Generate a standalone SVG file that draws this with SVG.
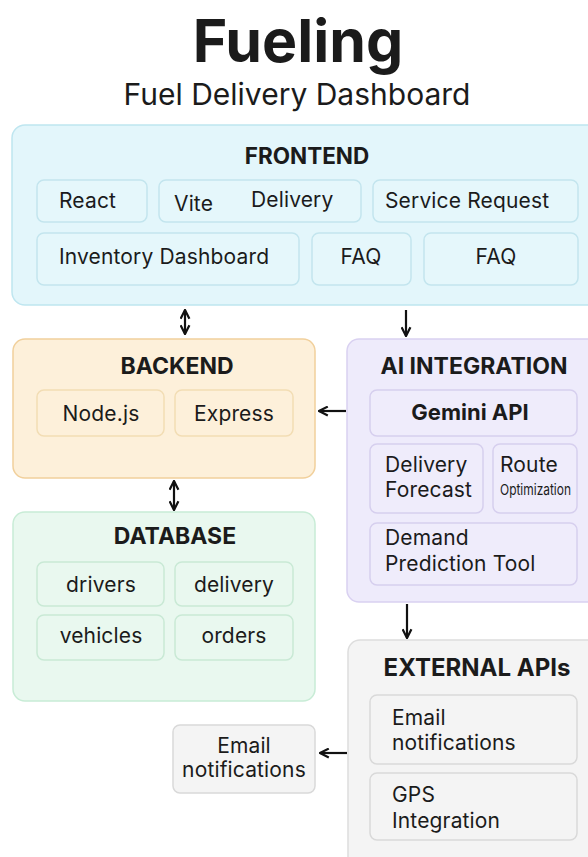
<svg xmlns="http://www.w3.org/2000/svg" width="588" height="857" viewBox="0 0 588 857">
  <style>
    text { font-family: Inter, "Noto Sans", "Liberation Sans", sans-serif; fill: #1b1b1b; }
    .h { font-size: 23px; font-weight: 700; text-anchor: middle; }
    .t { font-size: 21px; letter-spacing: 0.15px; }
    .c { text-anchor: middle; }
    .fe { fill: #e3f6fb; stroke: #bfe6f0; stroke-width: 1.5; }
    .fe-i { fill: #e5f7fb; stroke: #c3e5ee; stroke-width: 1.5; }
    .be { fill: #fdf0da; stroke: #f1d09c; stroke-width: 1.5; }
    .be-i { fill: #fdf0da; stroke: #f2ddb4; stroke-width: 1.5; }
    .db { fill: #e9f8ef; stroke: #c8ecd6; stroke-width: 1.5; }
    .db-i { fill: #e9f8ef; stroke: #c9e9d5; stroke-width: 1.5; }
    .ai { fill: #eeebfb; stroke: #d9d1f1; stroke-width: 1.5; }
    .ai-i { fill: #efecfb; stroke: #d6cfee; stroke-width: 1.5; }
    .ex { fill: #f4f4f4; stroke: #dddddd; stroke-width: 1.5; }
    .ex-i { fill: #f4f4f4; stroke: #d9d9d9; stroke-width: 1.5; }
    .arrow { stroke: #111; stroke-width: 2.2; fill: none; }
  </style>
  <defs>
    <marker id="ah" viewBox="0 0 10 10" refX="9" refY="5" markerWidth="5" markerHeight="5" orient="auto-start-reverse">
      <path d="M1,1 L9,5 L1,9" fill="none" stroke="#111" stroke-width="2" stroke-linejoin="miter"/>
    </marker>
  </defs>

  <rect width="588" height="857" fill="#ffffff"/>

  <!-- Title -->
  <g id="title">
    <text x="298" y="62" class="c" style="font-size:59px;font-weight:700">Fueling</text>
    <text x="297" y="105" class="c" style="font-size:30px">Fuel Delivery Dashboard</text>
  </g>

  <!-- Frontend -->
  <g id="frontend">
    <rect class="fe" x="12" y="125" width="600" height="180" rx="13"/>
    <text class="h" x="307" y="164" style="font-size:22.5px">FRONTEND</text>
    <rect class="fe-i" x="37" y="180" width="110" height="42" rx="7"/>
    <text class="t" x="59" y="208">React</text>
    <rect class="fe-i" x="159" y="180" width="202" height="42" rx="7"/>
    <text class="t" x="174" y="211">Vite</text>
    <text class="t" x="251" y="207">Delivery</text>
    <rect class="fe-i" x="373" y="180" width="205" height="42" rx="7"/>
    <text class="t" x="385" y="208">Service Request</text>
    <rect class="fe-i" x="37" y="233" width="262" height="52" rx="7"/>
    <text class="t" x="59" y="264">Inventory Dashboard</text>
    <rect class="fe-i" x="312" y="233" width="99" height="52" rx="7"/>
    <text class="t c" x="361" y="264">FAQ</text>
    <rect class="fe-i" x="424" y="233" width="154" height="52" rx="7"/>
    <text class="t c" x="496" y="264">FAQ</text>
  </g>

  <!-- Backend -->
  <g id="backend">
    <rect class="be" x="13" y="339" width="302" height="139" rx="12"/>
    <text class="h" x="177" y="374">BACKEND</text>
    <rect class="be-i" x="37" y="390" width="127" height="46" rx="7"/>
    <text class="t c" x="101" y="421">Node.js</text>
    <rect class="be-i" x="175" y="390" width="118" height="46" rx="7"/>
    <text class="t c" x="234" y="421">Express</text>
  </g>

  <!-- Database -->
  <g id="database">
    <rect class="db" x="13" y="512" width="302" height="189" rx="12"/>
    <text class="h" x="175" y="544">DATABASE</text>
    <rect class="db-i" x="37" y="562" width="127" height="44" rx="7"/>
    <text class="t c" x="101" y="592">drivers</text>
    <rect class="db-i" x="175" y="562" width="118" height="44" rx="7"/>
    <text class="t c" x="234" y="592">delivery</text>
    <rect class="db-i" x="37" y="615" width="127" height="45" rx="7"/>
    <text class="t c" x="101" y="643">vehicles</text>
    <rect class="db-i" x="175" y="615" width="118" height="45" rx="7"/>
    <text class="t c" x="234" y="643">orders</text>
  </g>

  <!-- AI integration -->
  <g id="ai-integration">
    <rect class="ai" x="347" y="339" width="260" height="263" rx="12"/>
    <text class="h" x="474" y="374">AI INTEGRATION</text>
    <rect class="ai-i" x="370" y="390" width="207" height="46" rx="7"/>
    <text class="c" x="470" y="420" style="font-size:22px;font-weight:700">Gemini API</text>
    <rect class="ai-i" x="370" y="444" width="113" height="69" rx="7"/>
    <text class="t" x="385" y="472">Delivery</text>
    <text class="t" x="385" y="497">Forecast</text>
    <rect class="ai-i" x="493" y="444" width="84" height="69" rx="7"/>
    <text class="t" x="500" y="472">Route</text>
    <text x="500" y="495" style="font-size:15px" textLength="71" lengthAdjust="spacingAndGlyphs">Optimization</text>
    <rect class="ai-i" x="370" y="523" width="207" height="62" rx="7"/>
    <text class="t" x="385" y="545">Demand</text>
    <text class="t" x="385" y="571">Prediction Tool</text>
  </g>

  <!-- External APIs -->
  <g id="external-apis">
    <rect class="ex" x="348" y="640" width="260" height="230" rx="12"/>
    <text class="h" x="477" y="676" style="font-size:24px">EXTERNAL APIs</text>
    <rect class="ex-i" x="370" y="695" width="207" height="69" rx="7"/>
    <text class="t" x="392" y="725">Email</text>
    <text class="t" x="392" y="750">notifications</text>
    <rect class="ex-i" x="370" y="773" width="207" height="67" rx="7"/>
    <text class="t" x="392" y="802">GPS</text>
    <text class="t" x="392" y="828">Integration</text>
  </g>

  <!-- Email notifications (outbound) -->
  <g id="email-notifications">
    <rect class="ex-i" x="173" y="725" width="142" height="68" rx="7"/>
    <text class="t c" x="244" y="753">Email</text>
    <text class="t c" x="244" y="777">notifications</text>
  </g>

  <!-- Connectors -->
  <g id="connectors">
    <line class="arrow" x1="185" y1="310" x2="185" y2="334" marker-start="url(#ah)" marker-end="url(#ah)"/>
    <line class="arrow" x1="406" y1="310" x2="406" y2="336" marker-end="url(#ah)"/>
    <line class="arrow" x1="346" y1="411" x2="319" y2="411" marker-end="url(#ah)"/>
    <line class="arrow" x1="174" y1="481" x2="174" y2="510" marker-start="url(#ah)" marker-end="url(#ah)"/>
    <line class="arrow" x1="407" y1="604" x2="407" y2="638" marker-end="url(#ah)"/>
    <line class="arrow" x1="347" y1="753" x2="320" y2="753" marker-end="url(#ah)"/>
  </g>
</svg>
